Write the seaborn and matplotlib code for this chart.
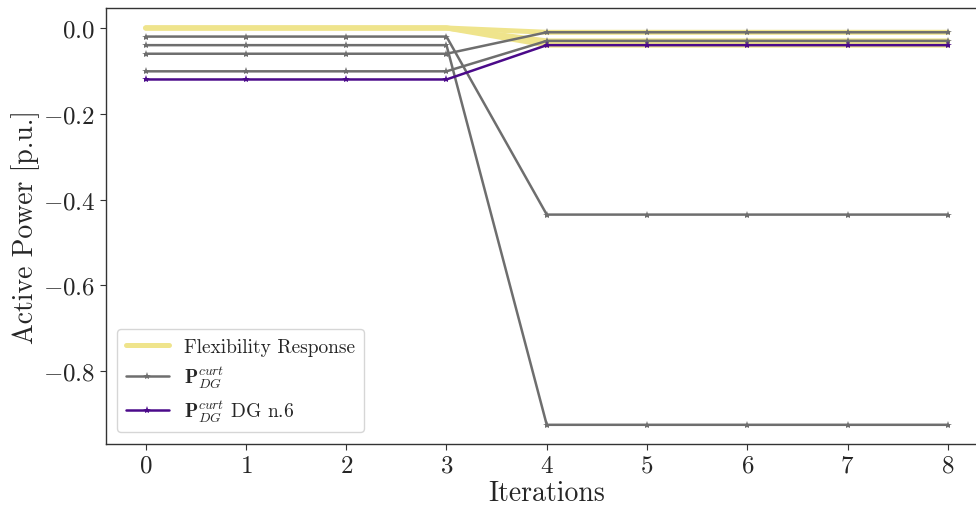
import matplotlib
matplotlib.use("Agg")
import matplotlib.pyplot as plt
import seaborn as sns
import numpy as np

iterations = [0, 1, 2, 3, 4, 5, 6, 7, 8]

# Flexibility response (yellow)
flex_1 = [0.0, 0.0, 0.0, 0.0, -0.010, -0.010, -0.010, -0.010, -0.010]
flex_2 = [0.0, 0.0, 0.0, 0.0, -0.030, -0.030, -0.030, -0.030, -0.030]
flex_3 = [0.0, 0.0, 0.0, 0.0, -0.040, -0.040, -0.040, -0.040, -0.040]

# P_DG curtailment (gray)
dg_a = [-0.020, -0.020, -0.020, -0.020, -0.435, -0.435, -0.435, -0.435, -0.435]
dg_b = [-0.040, -0.040, -0.040, -0.040, -0.925, -0.925, -0.925, -0.925, -0.925]
dg_c = [-0.060, -0.060, -0.060, -0.060, -0.010, -0.010, -0.010, -0.010, -0.010]
dg_d = [-0.101, -0.101, -0.101, -0.101, -0.030, -0.030, -0.030, -0.030, -0.030]

# DG n.6 (purple)
dg_6 = [-0.120, -0.120, -0.120, -0.120, -0.040, -0.040, -0.040, -0.040, -0.040]

sns.set_style("ticks")
plt.rcParams["font.family"] = ["cmr10", "DejaVu Serif"]
plt.rcParams["mathtext.fontset"] = "cm"
plt.rcParams["axes.formatter.use_mathtext"] = True
plt.rcParams["axes.unicode_minus"] = True

fig = plt.figure(figsize=(9.76, 5.06), dpi=100)
ax = fig.add_axes([0.1082, 0.1206, 0.904, 0.8616])

yellow = "#efe48c"
gray = "#6e6e6e"
purple = "#4b0a8a"

for i, fl in enumerate([flex_1, flex_2, flex_3]):
    sns.lineplot(x=iterations, y=fl, ax=ax, color=yellow, linewidth=3.6,
                 label="Flexibility Response" if i == 0 else "_nolegend_", zorder=1)

for i, dg in enumerate([dg_a, dg_b, dg_c, dg_d]):
    sns.lineplot(x=iterations, y=dg, ax=ax, color=gray, linewidth=1.8,
                 marker="*", markersize=6, markeredgewidth=0,
                 label=r"$\mathbf{P}_{DG}^{curt}$" if i == 0 else "_nolegend_", zorder=2)

sns.lineplot(x=iterations, y=dg_6, ax=ax, color=purple, linewidth=1.8,
             marker="*", markersize=6, markeredgewidth=0,
             label=r"$\mathbf{P}_{DG}^{curt}$ DG n.6", zorder=3)

ax.set_xlim(-0.4, 8.4)
ax.set_ylim(-0.9697, 0.0466)
ax.set_xticks(iterations)
ax.set_yticks([0.0, -0.2, -0.4, -0.6, -0.8])
ax.tick_params(axis="both", labelsize=18, length=4, color="#333333")
ax.set_xlabel("Iterations", fontsize=20, labelpad=2)
ax.set_ylabel("Active Power [p.u.]", fontsize=20, labelpad=2)
for s in ax.spines.values():
    s.set_color("#333333")
    s.set_linewidth(1.0)

leg = ax.legend(loc="lower left", fontsize=14, frameon=True, fancybox=True,
                handlelength=2.2, borderpad=0.45, labelspacing=0.4,
                borderaxespad=0.6)
leg.get_frame().set_edgecolor("#cccccc")

fig.savefig("out.png", dpi=100)
